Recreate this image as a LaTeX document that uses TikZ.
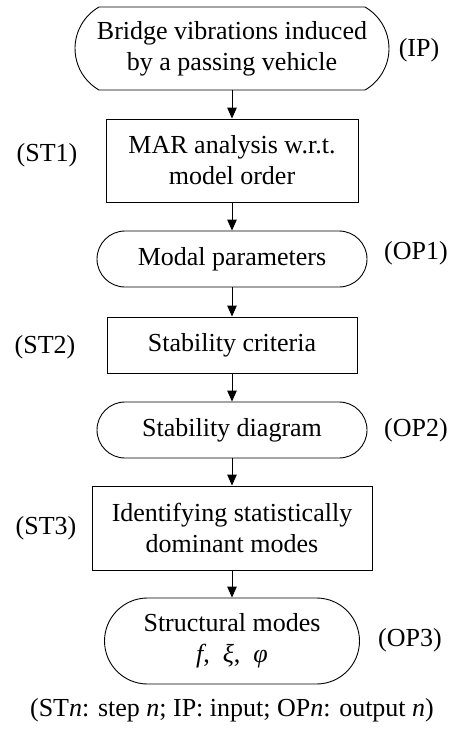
\documentclass[tikz,border=0pt]{standalone}
\usepackage{fontspec}
\setmainfont{Liberation Serif}
\usetikzlibrary{shapes.misc,arrows.meta}

\tikzset{
  base/.style={draw=black, line width=0.9pt, align=center, inner sep=0pt,
    font=\fontsize{26}{31}\selectfont},
  terminal/.style={base, rounded rectangle, rounded rectangle arc length=180},
  stepbox/.style={base, rectangle},
  tag/.style={font=\fontsize{26}{31}\selectfont, inner sep=0pt},
  flow/.style={line width=0.9pt, -{Triangle[length=11pt,width=9.5pt]}},
}

\begin{document}
\begin{tikzpicture}[x=1pt, y=-1pt]
  \useasboundingbox (0,0) rectangle (465,734);

  % main chain
  \node[terminal, rounded rectangle arc length=120,
        minimum width=314pt, minimum height=83pt] (ip) at (232,48.5)
        {Bridge vibrations induced\\by a passing vehicle};
  \node[stepbox, minimum width=252pt, minimum height=83pt] (st1) at (232,160.5)
        {MAR analysis w.r.t.\\model order};
  \node[terminal, minimum width=270pt, minimum height=56pt] (op1) at (232,259)
        {Modal parameters};
  \node[stepbox, minimum width=250pt, minimum height=56pt] (st2) at (232,345)
        {Stability criteria};
  \node[terminal, minimum width=270pt, minimum height=56pt] (op2) at (232,430)
        {Stability diagram};
  \node[stepbox, minimum width=280pt, minimum height=84pt] (st3) at (232,528)
        {Identifying statistically\\dominant modes};
  \node[terminal, minimum width=255pt, minimum height=86pt] (op3) at (232,641)
        {Structural modes\\{\itshape f},\ \ {\itshape ξ},\ \ {\itshape φ}};

  % side tags
  \node[tag] (tip)  at (419,50)  {(IP)};
  \node[tag] (tst1) at (47,155)  {(ST1)};
  \node[tag] (top1) at (416,253) {(OP1)};
  \node[tag] (tst2) at (45,347)  {(ST2)};
  \node[tag] (top2) at (416,430) {(OP2)};
  \node[tag] (tst3) at (46,528)  {(ST3)};
  \node[tag] (top3) at (410,640) {(OP3)};

  % legend
  \node[tag] (legend) at (232,710)
        {(ST\textit{n}: step \textit{n}; IP: input; OP\textit{n}: output \textit{n})};

  % connectors
  \draw[flow] (ip.south)  -- (st1.north);
  \draw[flow] (st1.south) -- (op1.north);
  \draw[flow] (op1.south) -- (st2.north);
  \draw[flow] (st2.south) -- (op2.north);
  \draw[flow] (op2.south) -- (st3.north);
  \draw[flow] (st3.south) -- (op3.north);
\end{tikzpicture}
\end{document}
